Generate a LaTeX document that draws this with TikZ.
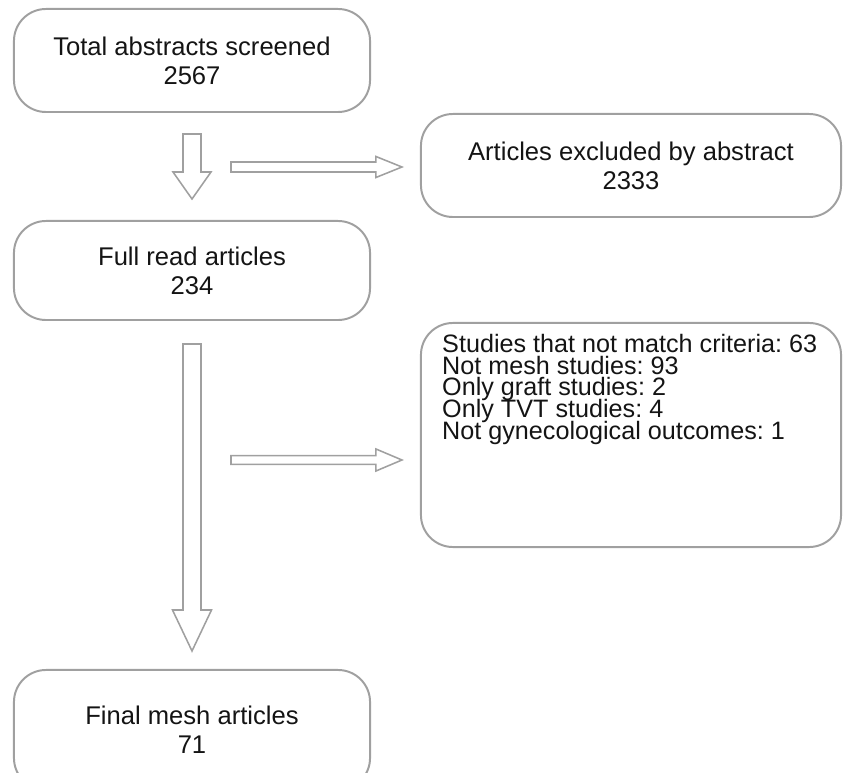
\documentclass[tikz,border=0pt]{standalone}
\usepackage{fontspec}
\setmainfont{Liberation Sans}
\usepackage{xcolor}
\usetikzlibrary{calc}
\frenchspacing

\definecolor{grisbord}{RGB}{160,160,160}
\definecolor{texte}{RGB}{20,20,20}

% police de la liste des motifs, interligne fixe
\newcommand{\policemotifs}{\fontsize{17.9}{15.4}\selectfont\setlength{\lineskiplimit}{-20pt}}

\tikzset{
  boite/.style={draw=grisbord, line width=1.4pt, rounded corners=0.8cm, align=center, text=texte,
    font=\fontsize{18.2}{20.8}\selectfont},
  fleche/.style={draw=grisbord, line width=1.1pt, fill=white, line join=miter}
}

% Flèche creuse : départ, pointe, demi-corps, demi-tête, longueur de tête
\newcommand{\flechecreuse}[5]{%
  \coordinate (basetete) at ($(#2)!#5!(#1)$);
  \draw[fleche] ($(#1)!#3!90:(#2)$) -- ($(basetete)!#3!90:(#2)$) -- ($(basetete)!#4!90:(#2)$) -- (#2)
    -- ($(basetete)!#4!-90:(#2)$) -- ($(basetete)!#3!-90:(#2)$) -- ($(#1)!#3!-90:(#2)$) -- cycle;
}

\begin{document}
\begin{tikzpicture}[x=0.025cm, y=-0.025cm]
        \useasboundingbox (0,0) rectangle (844,773);
        \clip (0,0) rectangle (844,773);

        % Boîtes de gauche
        \node[boite, minimum width=8.9cm, minimum height=2.575cm] (total) at (192,60.5) {Total abstracts screened\\2567};
        \node[boite, minimum width=8.9cm, minimum height=2.475cm] (lus) at (192,270.5) {Full read articles\\234};
        \node[boite, minimum width=8.9cm, minimum height=3cm] (final) at (192,730) {Final mesh articles\\71};

        % Boîtes de droite
        \node[boite, minimum width=10.5cm, minimum height=2.575cm] (exclus) at (631,165.5) {Articles excluded by abstract\\2333};
        \node[boite, minimum width=10.5cm, minimum height=5.6cm] (criteres) at (631,435) {};
        \node[anchor=north west, align=left, inner sep=0pt, text=texte, font=\policemotifs]
            (motifs) at ($(criteres.north west)+(22,12)$)
            {Studies that not match criteria: 63\\Not mesh studies: 93\\Only graft studies: 2\\Only TVT studies: 4\\Not gynecological outcomes: 1};

        % Flèches vers le bas
        \coordinate (haut1) at ($(total.south)+(0,21)$);
        \coordinate (pointe1) at ($(lus.north)+(0,-21)$);
        \flechecreuse{haut1}{pointe1}{0.225cm}{0.475cm}{0.675cm}
        \coordinate (haut2) at ($(lus.south)+(0,23)$);
        \coordinate (pointe2) at ($(final.north)+(0,-18)$);
        \flechecreuse{haut2}{pointe2}{0.225cm}{0.4875cm}{1.025cm}

        % Flèches vers la droite
        \coordinate (depart1) at (231,167);
        \coordinate (bout1) at ($(exclus.west)+(-18,1.5)$);
        \flechecreuse{depart1}{bout1}{0.125cm}{0.2625cm}{0.65cm}
        \coordinate (depart2) at (231,460);
        \coordinate (bout2) at ($(criteres.west)+(-18,25)$);
        \flechecreuse{depart2}{bout2}{0.11cm}{0.275cm}{0.65cm}
    \end{tikzpicture}
\end{document}
